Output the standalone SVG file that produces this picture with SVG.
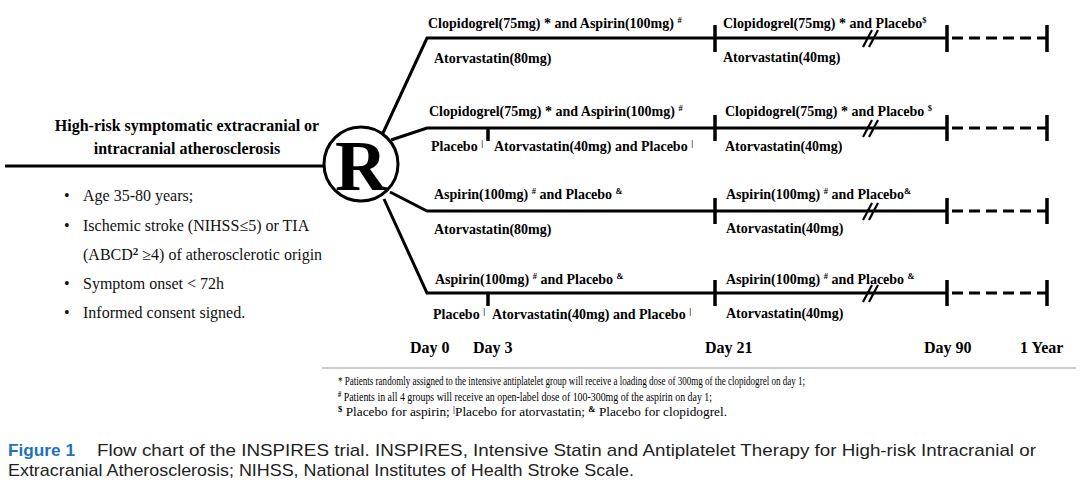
<svg xmlns="http://www.w3.org/2000/svg" width="1080" height="489" viewBox="0 0 1080 489">
<style>
.ln{stroke:#000;stroke-width:3;fill:none;stroke-linecap:butt}
.tk{stroke:#000;stroke-width:3.5;fill:none}
.dash{stroke:#000;stroke-width:3;fill:none;stroke-dasharray:11 6}
.lb{font-family:"Liberation Serif","Times New Roman",serif;font-weight:bold;font-size:14px;fill:#000}
.sup{font-size:8.5px}
.day{font-family:"Liberation Serif","Times New Roman",serif;font-weight:bold;font-size:16px;fill:#000}
.ttl{font-family:"Liberation Serif","Times New Roman",serif;font-weight:bold;font-size:16px;fill:#000}
.bul{font-family:"Liberation Serif","Times New Roman",serif;font-size:16px;fill:#111}
.fn{font-family:"Liberation Serif","Times New Roman",serif;font-size:13px;fill:#000}
.fs{font-size:8.5px;font-weight:bold}
.cap{font-family:"Liberation Sans",Arial,sans-serif;font-size:17px;fill:#222}
.fig{fill:#1f72b8;font-weight:bold}
</style>
<rect width="1080" height="489" fill="#fff"/>

<g id="connectors">
  <line class="ln" x1="5" y1="166" x2="324" y2="166"/>
  <polyline class="ln" points="383,133 427,38 947,38"/>
  <polyline class="ln" points="391,140 427,128 947,128"/>
  <polyline class="ln" points="390,192 427,211 947,211"/>
  <polyline class="ln" points="384,199 427,293 947,293"/>
  <line class="dash" x1="952" y1="38" x2="1046" y2="38"/>
  <line class="dash" x1="952" y1="128" x2="1046" y2="128"/>
  <line class="dash" x1="952" y1="211" x2="1046" y2="211"/>
  <line class="dash" x1="952" y1="293" x2="1046" y2="293"/>
  <line class="tk" x1="488" y1="128" x2="488" y2="141"/>
  <line class="tk" x1="488" y1="293" x2="488" y2="306"/>
  <line class="tk" x1="715" y1="25" x2="715" y2="52"/>
  <line class="tk" x1="715" y1="115" x2="715" y2="141"/>
  <line class="tk" x1="715" y1="198" x2="715" y2="224"/>
  <line class="tk" x1="715" y1="280" x2="715" y2="306"/>
  <line class="tk" x1="947" y1="25" x2="947" y2="52"/>
  <line class="tk" x1="947" y1="115" x2="947" y2="141"/>
  <line class="tk" x1="947" y1="198" x2="947" y2="224"/>
  <line class="tk" x1="947" y1="280" x2="947" y2="306"/>
  <line class="tk" x1="1047" y1="25" x2="1047" y2="52"/>
  <line class="tk" x1="1047" y1="115" x2="1047" y2="141"/>
  <line class="tk" x1="1047" y1="198" x2="1047" y2="224"/>
  <line class="tk" x1="1047" y1="280" x2="1047" y2="306"/>
  <g stroke="#000" stroke-width="2.2">
    <line x1="863" y1="47" x2="872" y2="30"/><line x1="869" y1="47" x2="878" y2="30"/>
    <line x1="863" y1="137" x2="872" y2="120"/><line x1="869" y1="137" x2="878" y2="120"/>
    <line x1="863" y1="220" x2="872" y2="203"/><line x1="869" y1="220" x2="878" y2="203"/>
    <line x1="863" y1="302" x2="872" y2="285"/><line x1="869" y1="302" x2="878" y2="285"/>
  </g>
</g>

<g id="randomize">
  <circle cx="361" cy="164" r="37" fill="#fff" stroke="#000" stroke-width="3"/>
  <text x="361" y="190" text-anchor="middle" font-family="'Liberation Serif','Times New Roman',serif" font-weight="bold" font-size="72px">R</text>
</g>

<g id="population">
  <text class="ttl" x="187" y="131" text-anchor="middle">High-risk symptomatic extracranial or</text>
  <text class="ttl" x="187" y="154" text-anchor="middle">intracranial atherosclerosis</text>
  <g class="bul">
    <text x="64" y="201">•</text><text x="83" y="201">Age 35-80 years;</text>
    <text x="64" y="231">•</text><text x="83" y="231">Ischemic stroke (NIHSS≤5) or TIA</text>
    <text x="83" y="260">(ABCD<tspan font-weight="bold" font-size="11px" dy="-5">2</tspan><tspan dy="5"> ≥4) of atherosclerotic origin</tspan></text>
    <text x="64" y="289">•</text><text x="83" y="289">Symptom onset &lt; 72h</text>
    <text x="64" y="318">•</text><text x="83" y="318">Informed consent signed.</text>
  </g>
</g>

<g id="arm1">
  <text class="lb" x="428" y="28">Clopidogrel(75mg) * and Aspirin(100mg) <tspan class="sup" dy="-5">#</tspan></text>
  <text class="lb" x="434" y="63">Atorvastatin(80mg)</text>
  <text class="lb" x="723" y="28">Clopidogrel(75mg) * and Placebo<tspan class="sup" dy="-5">$</tspan></text>
  <text class="lb" x="723" y="62">Atorvastatin(40mg)</text>
</g>

<g id="arm2">
  <text class="lb" x="429" y="116">Clopidogrel(75mg) * and Aspirin(100mg) <tspan class="sup" dy="-5">#</tspan></text>
  <text class="lb" x="431" y="151">Placebo <tspan class="sup" dy="-5">|</tspan></text>
  <text class="lb" x="494" y="151">Atorvastatin(40mg) and Placebo <tspan class="sup" dy="-5">|</tspan></text>
  <text class="lb" x="725" y="116">Clopidogrel(75mg) * and Placebo <tspan class="sup" dy="-5">$</tspan></text>
  <text class="lb" x="725" y="151">Atorvastatin(40mg)</text>
</g>

<g id="arm3">
  <text class="lb" x="434" y="199">Aspirin(100mg) <tspan class="sup" dy="-5">#</tspan><tspan dy="5"> and Placebo </tspan><tspan class="sup" dy="-5">&amp;</tspan></text>
  <text class="lb" x="434" y="234">Atorvastatin(80mg)</text>
  <text class="lb" x="726" y="199">Aspirin(100mg) <tspan class="sup" dy="-5">#</tspan><tspan dy="5"> and Placebo</tspan><tspan class="sup" dy="-5">&amp;</tspan></text>
  <text class="lb" x="726" y="233">Atorvastatin(40mg)</text>
</g>

<g id="arm4">
  <text class="lb" x="435" y="284">Aspirin(100mg) <tspan class="sup" dy="-5">#</tspan><tspan dy="5"> and Placebo </tspan><tspan class="sup" dy="-5">&amp;</tspan></text>
  <text class="lb" x="433" y="319">Placebo <tspan class="sup" dy="-5">|</tspan></text>
  <text class="lb" x="492" y="319">Atorvastatin(40mg) and Placebo <tspan class="sup" dy="-5">|</tspan></text>
  <text class="lb" x="726" y="284">Aspirin(100mg) <tspan class="sup" dy="-5">#</tspan><tspan dy="5"> and Placebo </tspan><tspan class="sup" dy="-5">&amp;</tspan></text>
  <text class="lb" x="726" y="318">Atorvastatin(40mg)</text>
</g>

<g id="timeline">
  <text class="day" x="410" y="353">Day 0</text>
  <text class="day" x="473" y="353">Day 3</text>
  <text class="day" x="705" y="353">Day 21</text>
  <text class="day" x="924" y="353">Day 90</text>
  <text class="day" x="1020" y="353">1 Year</text>
</g>

<g id="footnotes">
  <line x1="322" y1="368" x2="1076" y2="368" stroke="#999" stroke-width="1"/>
  <text class="fn" x="338" y="385" textLength="467" lengthAdjust="spacingAndGlyphs">* Patients randomly assigned to the intensive antiplatelet group will receive a loading dose of 300mg of the clopidogrel on day 1;</text>
  <text class="fn" x="338" y="401" textLength="374" lengthAdjust="spacingAndGlyphs"><tspan class="fs" dy="-4">#</tspan><tspan dy="4"> Patients in all 4 groups will receive an open-label dose of 100-300mg of the aspirin  on day 1;</tspan></text>
  <text class="fn" x="338" y="416" textLength="389" lengthAdjust="spacingAndGlyphs"><tspan class="fs" dy="-4">$</tspan><tspan dy="4"> Placebo for aspirin; </tspan><tspan class="fs" dy="-4">|</tspan><tspan dy="4">Placebo for atorvastatin; </tspan><tspan class="fs" dy="-4">&amp;</tspan><tspan dy="4"> Placebo for clopidogrel.</tspan></text>
</g>

<g id="caption">
  <text class="cap fig" x="8" y="456" textLength="67" lengthAdjust="spacingAndGlyphs">Figure 1</text>
  <text class="cap" x="97" y="456" textLength="939" lengthAdjust="spacingAndGlyphs">Flow chart of the INSPIRES trial. INSPIRES, Intensive Statin and Antiplatelet Therapy for High-risk Intracranial or</text>
  <text class="cap" x="8" y="476" textLength="626" lengthAdjust="spacingAndGlyphs">Extracranial Atherosclerosis; NIHSS, National Institutes of Health Stroke Scale.</text>
</g>
</svg>
